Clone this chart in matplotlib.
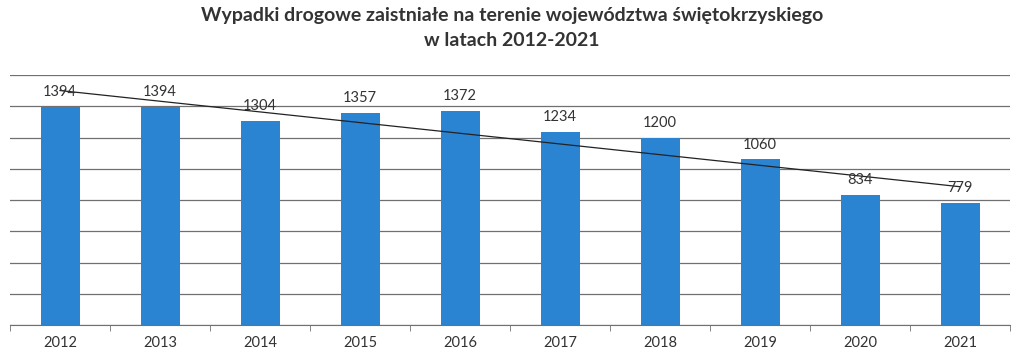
import numpy as np
import matplotlib.pyplot as plt

years = ["2012", "2013", "2014", "2015", "2016", "2017", "2018", "2019", "2020", "2021"]
accidents = [1394, 1394, 1304, 1357, 1372, 1234, 1200, 1060, 834, 779]

plt.rcParams["font.family"] = ["Lato", "DejaVu Sans"]

fig = plt.figure(figsize=(10.24, 3.59), dpi=100)
ax = fig.add_axes([10 / 1024, 34 / 359, 1000 / 1024, 250 / 359])

x = np.arange(len(years))
ax.bar(x, accidents, width=0.39, color="#2a84d2", zorder=2)

# linear trend line (like the Excel trendline)
slope, intercept = np.polyfit(x, accidents, 1)
ax.plot(x, slope * x + intercept, color="#222222", lw=0.9, zorder=3)

for xi, v in zip(x, accidents):
    ax.text(xi, v + 50, str(v), ha="center", va="bottom", fontsize=10.5, color="#333333")

ax.set_xlim(-0.5, len(years) - 0.5)
ax.set_ylim(0, 1600)
ax.set_yticks(range(0, 1601, 200))
ax.yaxis.grid(True, color="#707070", lw=0.9, zorder=0)
ax.tick_params(axis="y", left=False, labelleft=False)

ax.set_xticks(x)
ax.set_xticklabels(years, fontsize=10.5, color="#333333")
ax.set_xticks(np.arange(-0.5, len(years)), minor=True)
ax.tick_params(axis="x", which="major", length=0, pad=8)
ax.tick_params(axis="x", which="minor", length=4, color="#707070")

for s in ["top", "right", "left"]:
    ax.spines[s].set_visible(False)
ax.spines["bottom"].set_color("#707070")

fig.text(0.5, 1 - 15 / 359, "Wypadki drogowe zaistniałe na terenie województwa świętokrzyskiego",
         ha="center", va="center", fontsize=14, fontweight="bold", color="#333333")
fig.text(0.5, 1 - 41 / 359, "w latach 2012-2021",
         ha="center", va="center", fontsize=14, fontweight="bold", color="#333333")

fig.savefig("out.png", dpi=100)
